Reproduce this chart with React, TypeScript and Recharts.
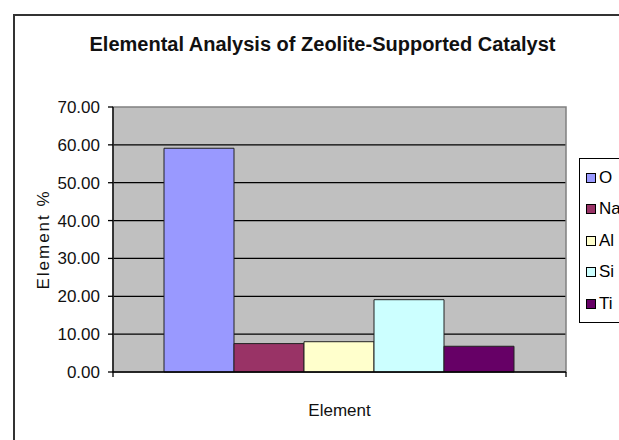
import React from 'react'
import {
  BarChart,
  Bar,
  XAxis,
  YAxis,
  CartesianGrid,
  Legend,
  ReferenceArea,
} from 'recharts'

const elements = ['O', 'Na', 'Al', 'Si', 'Ti']
const percents = [59.1, 7.5, 8.0, 19.1, 6.8]
const barColors = ['#9999ff', '#993366', '#ffffcc', '#ccffff', '#660066']
const yTicks = [0, 10, 20, 30, 40, 50, 60, 70]
const gridValues = [10, 20, 30, 40, 50, 60]

const FONT = '"Liberation Sans", Arial, sans-serif'

// one category row, one column per element
const row: Record<string, string | number> = { name: 'Element', edge: 0.5 }
elements.forEach((el, i) => {
  row[el] = percents[i]
})
const chartData = [row]

const LegendBox = ({ payload }: any) => (
  <div
    style={{
      border: '1px solid #000',
      background: '#fff',
      width: 80,
      padding: '3px 0 2px 0',
      fontFamily: FONT,
      fontSize: 17,
      color: '#000',
    }}
  >
    {(payload || []).map((p: any) => (
      <div key={p.value} style={{ height: 31.5, display: 'flex', alignItems: 'center' }}>
        <span
          style={{
            display: 'inline-block',
            width: 8,
            height: 8,
            marginLeft: 6,
            marginRight: 3,
            background: p.color,
            border: '1px solid #000',
          }}
        />
        <span>{p.value}</span>
      </div>
    ))}
  </div>
)

export default function App() {
  return (
    <div
      style={{
        position: 'absolute',
        left: 0,
        top: 0,
        width: 619,
        height: 440,
        overflow: 'hidden',
        background: '#fff',
        fontFamily: FONT,
      }}
    >
      {/* chart frame */}
      <div
        style={{
          position: 'absolute',
          left: 13,
          top: 14,
          width: 640,
          height: 460,
          border: '2px solid #333',
          boxSizing: 'border-box',
        }}
      />
      <div
        style={{
          position: 'absolute',
          left: 0,
          width: 645,
          top: 31,
          textAlign: 'center',
          fontSize: 20,
          fontWeight: 'bold',
          color: '#111',
          lineHeight: '26px',
        }}
      >
        Elemental Analysis of Zeolite-Supported Catalyst
      </div>
      <div style={{ position: 'absolute', left: 0, top: 0 }}>
        <BarChart
          width={619}
          height={440}
          data={chartData}
          margin={{ top: 107, right: 53, bottom: 20, left: 0 }}
          barCategoryGap={51}
          barGap={0}
        >
          <CartesianGrid
            vertical={false}
            horizontalValues={gridValues}
            stroke="#000"
            strokeWidth={1.3}
            fill="#c0c0c0"
            fillOpacity={1}
          />
          <ReferenceArea y1={0} y2={70} fill="none" stroke="#808080" strokeWidth={1.5} ifOverflow="visible" />
          <XAxis dataKey="name" hide height={0} />
          {/* category axis line with its two end ticks */}
          <XAxis
            xAxisId="edge"
            dataKey="edge"
            type="number"
            domain={[0, 1]}
            ticks={[0, 1]}
            allowDataOverflow
            height={48}
            tickSize={5}
            tickFormatter={() => ''}
            axisLine={{ stroke: '#000', strokeWidth: 1.3 }}
            tickLine={{ stroke: '#000', strokeWidth: 1.3 }}
            label={{
              value: 'Element',
              position: 'insideBottom',
              offset: 4,
              fill: '#111',
              fontSize: 17,
              fontFamily: FONT,
            }}
          />
          <YAxis
            width={113}
            domain={[0, 70]}
            ticks={yTicks}
            interval={0}
            tickSize={5}
            tickMargin={8}
            tickFormatter={(v: number) => v.toFixed(2)}
            tick={{ fill: '#111', fontSize: 17, fontFamily: FONT }}
            axisLine={{ stroke: '#000', strokeWidth: 1.3 }}
            tickLine={{ stroke: '#000', strokeWidth: 1.3 }}
            label={{
              value: 'Element %',
              angle: -90,
              position: 'insideLeft',
              offset: 43,
              style: { textAnchor: 'middle', letterSpacing: 2 },
              fill: '#111',
              fontSize: 17,
              fontFamily: FONT,
            }}
          />
          <Legend
            layout="vertical"
            align="center"
            verticalAlign="middle"
            itemSorter={(item: any) => elements.indexOf(item.value)}
            content={<LegendBox />}
            wrapperStyle={{ left: 579, top: 158, right: 'auto', bottom: 'auto', width: 80 }}
          />
          {elements.map((el, i) => (
            <Bar
              key={el}
              dataKey={el}
              fill={barColors[i]}
              stroke="#222"
              strokeWidth={1}
              isAnimationActive={false}
            />
          ))}
        </BarChart>
      </div>
    </div>
  )
}
